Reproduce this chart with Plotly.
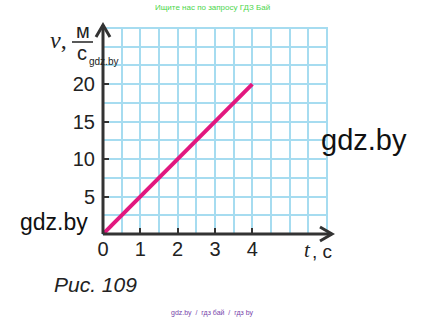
import plotly.graph_objects as go

# data
t_vals = [0, 4]
v_vals = [0, 20]
x_tick_vals = [0, 1, 2, 3, 4]
x_tick_text = ["0", "1", "2", "3", "4"]
y_tick_vals = [5, 10, 15, 20]
y_tick_text = ["5", "10", "15", "20"]

W, H = 425, 321
L, R, T, B = 103, 98, 28, 87
pw, ph = W - L - R, H - T - B

def px(x):
    return (x - L) / pw

def py(y):
    return (H - B - y) / ph

AX = "#333333"
GRID = "#A6DCF0"

fig = go.Figure()
fig.add_trace(go.Scatter(x=t_vals, y=v_vals, mode="lines",
                         line=dict(color="#E2187F", width=4), hoverinfo="skip"))

fig.update_layout(
    width=W, height=H, margin=dict(l=L, r=R, t=T, b=B),
    paper_bgcolor="white", plot_bgcolor="white", showlegend=False,
    font=dict(family="Liberation Sans", color="#222222"),
)
fig.update_xaxes(range=[0, 6], tickvals=x_tick_vals, ticktext=x_tick_text,
                 showgrid=True, gridcolor=GRID, gridwidth=2,
                 minor=dict(dtick=0.5, showgrid=True, gridcolor=GRID, gridwidth=2),
                 ticks="inside", ticklen=6, tickwidth=2, tickcolor=AX,
                 tickfont=dict(size=20, color="#222"), zeroline=False,
                 showline=False, ticklabelstandoff=1)
fig.update_yaxes(range=[0, 27.5], tickvals=y_tick_vals, ticktext=y_tick_text,
                 showgrid=True, gridcolor=GRID, gridwidth=2,
                 minor=dict(dtick=2.5, showgrid=True, gridcolor=GRID, gridwidth=2),
                 ticks="inside", ticklen=6, tickwidth=2, tickcolor=AX,
                 tickfont=dict(size=20, color="#222"), zeroline=False,
                 showline=False, ticklabelstandoff=7)

# grid border
fig.add_shape(type="rect", xref="paper", yref="paper", x0=0, y0=0, x1=1, y1=1,
              line=dict(color=GRID, width=2), layer="below")
# axes with arrows
fig.add_shape(type="line", xref="paper", yref="paper", x0=px(103), y0=py(234),
              x1=px(103), y1=py(25), line=dict(color=AX, width=3))
fig.add_shape(type="path", xref="paper", yref="paper",
              path=f"M {px(96)} {py(37)} L {px(103)} {py(25)} L {px(110)} {py(37)}",
              line=dict(color=AX, width=3))
fig.add_shape(type="line", xref="paper", yref="paper", x0=px(103), y0=py(234),
              x1=px(332), y1=py(234), line=dict(color=AX, width=3))
fig.add_shape(type="path", xref="paper", yref="paper",
              path=f"M {px(320)} {py(227)} L {px(332)} {py(234)} L {px(320)} {py(241)}",
              line=dict(color=AX, width=3))

def txt(x, y, s, size, color="#222222", family="Liberation Sans", xa="center"):
    fig.add_annotation(xref="paper", yref="paper", x=px(x), y=py(y), text=s,
                       showarrow=False, xanchor=xa, yanchor="middle",
                       font=dict(size=size, color=color, family=family))

# axis labels
txt(58, 40, "<i>v</i>,", 24, family="Liberation Serif")
txt(83, 31, "м", 20)
fig.add_shape(type="line", xref="paper", yref="paper", x0=px(72), y0=py(42),
              x1=px(93), y1=py(42), line=dict(color="#222", width=1.5))
txt(82, 53, "с", 20)
txt(103, 61, "gdz.by", 10)
txt(307, 250, "<i>t</i>", 21, family="Liberation Serif")
txt(322, 251, ", с", 19)

# watermarks and captions
txt(364, 140, "gdz.by", 29, color="#111")
txt(54, 222, "gdz.by", 23, color="#111")
txt(95, 284, "<i>Рис. 109</i>", 21)
txt(212, 7, "Ищите нас по запросу ГДЗ Бай", 8, color="#4CD64C")
txt(212, 313, "gdz.by  /  гдз бай  /  гдз by", 7, color="#7744AA")

fig.write_html("out.html")
